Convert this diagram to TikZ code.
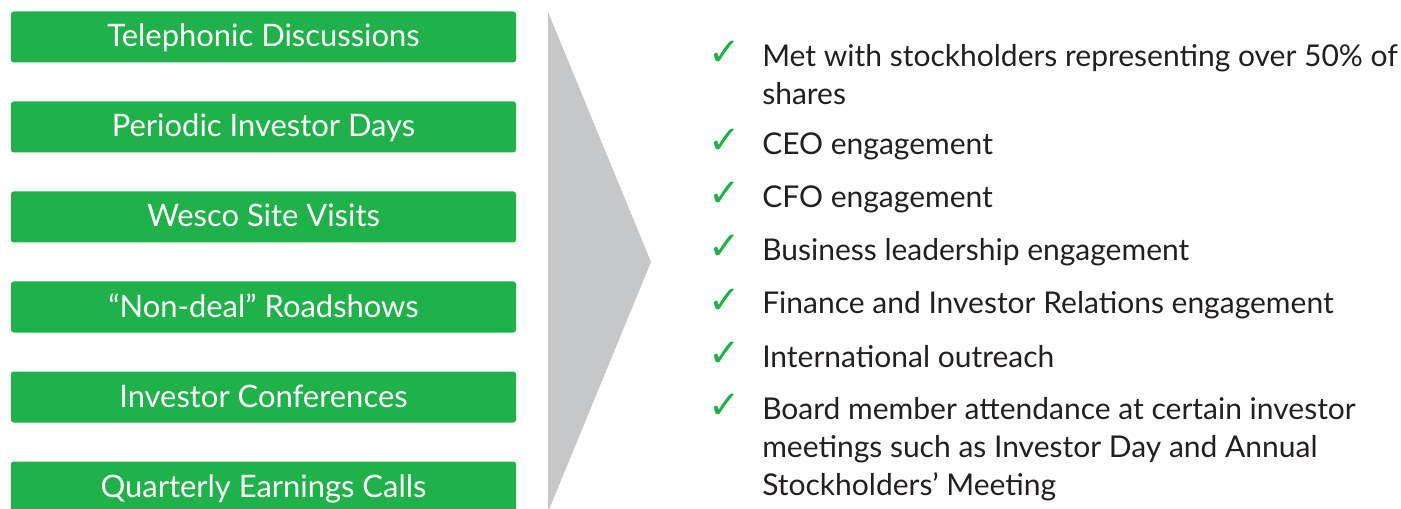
\documentclass[tikz,border=0pt]{standalone}
\usepackage{fontspec}
\setmainfont{Lato}
\newfontfamily\tickfont{DejaVu Sans}
\usetikzlibrary{positioning}
\definecolor{boxgreen}{HTML}{21B14B}
\definecolor{arrowgray}{HTML}{C6C7C9}
\definecolor{bodytext}{HTML}{231F20}

\begin{document}
\begin{tikzpicture}[x=0.75pt,y=-0.75pt,
    channel/.style={fill=boxgreen, rounded corners=2pt, inner sep=0pt,
        minimum width=378.75pt, minimum height=38.25pt,
        text height=17pt, text depth=2pt, text=white,
        font=\fontsize{23.2}{28}\selectfont},
    tick/.style={anchor=base, text=boxgreen, inner sep=0pt, font=\tickfont\fontsize{29}{30}\selectfont},
    point/.style={anchor=base west, align=left, inner sep=0pt, text=bodytext,
        font=\fontsize{22.5}{28.5}\selectfont}
]
\useasboundingbox (0,0) rectangle (1401,509);
\clip (0,0) rectangle (1401,509);

\node[channel] (phone) at (263.5,37) {Telephonic Discussions};
\node[channel] (days) at (263.5,127) {Periodic Investor Days};
\node[channel] (site) at (263.5,217) {Wesco Site Visits};
\node[channel] (road) at (263.5,307) {“Non-deal” Roadshows};
\node[channel] (conf) at (263.5,397) {Investor Conferences};
\node[channel] (calls) at (263.5,487) {Quarterly Earnings Calls};

\fill[arrowgray] (548,12) -- (651,262) -- (548,512) -- cycle;

% first number: baseline of the first line, second: baseline of the last line
\foreach \n/\y/\b/\t in {
    met/67/105/{Met with stockholders representing over 50\% of\\shares},
    ceo/155/155/{CEO engagement},
    cfo/208/208/{CFO engagement},
    lead/261/261/{Business leadership engagement},
    ir/314/314/{Finance and Investor Relations engagement},
    intl/367/367/{International outreach},
    board/419/495/{Board member attendance at certain investor\\meetings such as Investor Day and Annual\\Stockholders’ Meeting}}
{
    \node[tick] (tick-\n) at (725,\y-1) {✓};
    \node[point] (item-\n) at (762,\b) {\t};
}
\end{tikzpicture}
\end{document}
